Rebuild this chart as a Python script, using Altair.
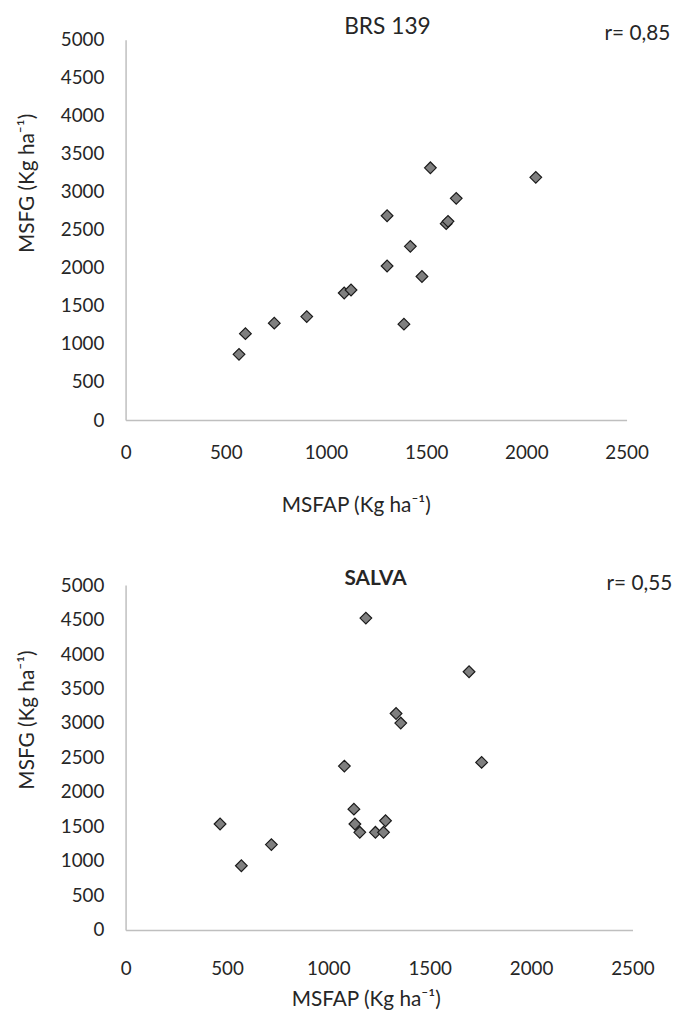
import altair as alt
import pandas as pd

# BRS 139 panel
brs_x = [566, 598, 742, 904, 1091, 1125, 1305, 1305, 1389, 1421, 1479, 1521, 1600, 1609, 1650, 2047]
brs_y = [864, 1136, 1274, 1360, 1671, 1710, 2686, 2025, 1261, 2284, 1887, 3316, 2582, 2612, 2915, 3191]

# SALVA panel
salva_x = [466, 571, 719, 1079, 1126, 1131, 1155, 1185, 1232, 1272, 1282, 1334, 1357, 1694, 1756]
salva_y = [1536, 931, 1238, 2376, 1752, 1536, 1416, 4522, 1416, 1416, 1584, 3139, 3000, 3744, 2429]

x_ticks = [0, 500, 1000, 1500, 2000, 2500]
y_ticks = [0, 500, 1000, 1500, 2000, 2500, 3000, 3500, 4000, 4500, 5000]

FONT = "Lato"
TXT = "#262626"


def panel(xs, ys, title, bold, tsize, r_text, w, h, xtitle, ytitle, pos):
    df = pd.DataFrame({"MSFAP": xs, "MSFG": ys})
    pts = alt.Chart(df).mark_point(
        shape="diamond", filled=True, fill="#7f7f7f", stroke="#1a1a1a",
        strokeWidth=1.2, size=140, opacity=1
    ).encode(
        x=alt.X("MSFAP:Q",
                scale=alt.Scale(domain=[0, 2500], nice=False),
                axis=alt.Axis(values=x_ticks, format="d", title=xtitle, labelFlush=False,
                              labelPadding=pos["xlabpad"], titleX=pos["xtx"],
                              titleY=pos["xty"])),
        y=alt.Y("MSFG:Q",
                scale=alt.Scale(domain=[0, 5000], nice=False),
                axis=alt.Axis(values=y_ticks, format="d", title=ytitle,
                              labelPadding=pos["ylabpad"], titleX=pos["ytx"],
                              titleY=pos["yty"])),
    )
    tdf = pd.DataFrame({"t": [title]})
    ttl = alt.Chart(tdf).mark_text(
        font=FONT, fontSize=tsize, fontWeight="bold" if bold else "normal",
        color=TXT, align="center", baseline="middle"
    ).encode(x=alt.value(pos["tx"]), y=alt.value(pos["ty"]), text="t:N")
    rdf = pd.DataFrame({"t": [r_text]})
    rtx = alt.Chart(rdf).mark_text(
        font=FONT, fontSize=21, color=TXT, align="center", baseline="middle"
    ).encode(x=alt.value(pos["rx"]), y=alt.value(pos["ry"]), text="t:N")
    return alt.layer(pts, ttl, rtx).properties(width=w, height=h)


top = panel(brs_x, brs_y, "BRS 139", False, 23, "r= 0,85", 507, 385,
            "MSFAP (Kg  ha⁻¹)", "MSFG (Kg  ha⁻¹)",
            dict(xlabpad=24, xtx=233, xty=75, ylabpad=22, ytx=-89, yty=145,
                 tx=265, ty=-13, rx=518, ry=-6))
bottom = panel(salva_x, salva_y, "SALVA", True, 21, "r= 0,55", 513, 349,
               "MSFAP (Kg ha⁻¹)", "MSFG (Kg  ha⁻¹)",
               dict(xlabpad=30, xtx=243, xty=59, ylabpad=22, ytx=-89, yty=136,
                    tx=253, ty=-6, rx=520, ry=-1))

chart = alt.vconcat(top, bottom, spacing=54).properties(
    padding={"left": 8, "top": 2, "right": 0, "bottom": 0}
).configure_view(
    stroke=None
).configure_axis(
    grid=False, ticks=False, tickSize=0, domainColor="#bfbfbf", domainWidth=1.5,
    labelFont=FONT, labelFontSize=19, labelColor=TXT, labelOverlap=False,
    titleFont=FONT, titleFontSize=21, titleFontWeight="normal", titleColor=TXT,
)

chart.save("out.html", embed_options={"renderer": "svg", "actions": False})
